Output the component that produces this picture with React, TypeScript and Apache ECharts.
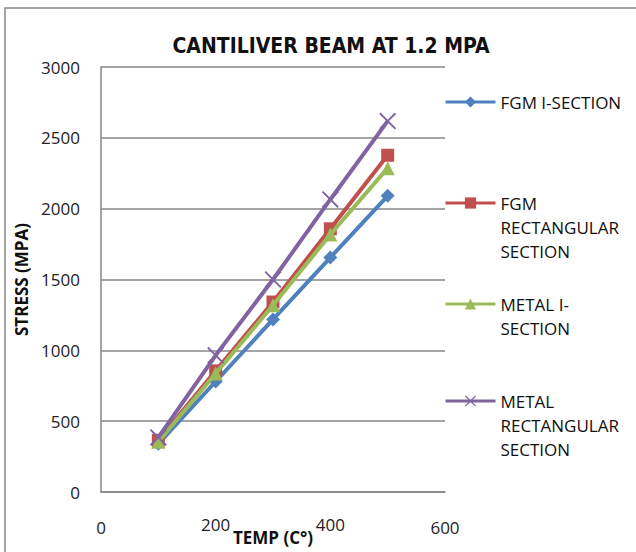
import React, { useEffect, useRef } from "react";
import * as echarts from "echarts";

const temps = [100, 200, 300, 400, 500];
const fgmI = [340, 780, 1218, 1655, 2091];
const fgmRect = [365, 855, 1341, 1858, 2377];
const metalI = [355, 836, 1318, 1818, 2286];
const metalRect = [385, 965, 1500, 2065, 2618];

const seriesNames = [
  "FGM I-SECTION",
  "FGM RECTANGULAR SECTION",
  "METAL I-SECTION",
  "METAL RECTANGULAR SECTION",
];
const legendLabels = [
  ["FGM I-SECTION"],
  ["FGM", "RECTANGULAR", "SECTION"],
  ["METAL I-", "SECTION"],
  ["METAL", "RECTANGULAR", "SECTION"],
];
const colors = ["#4F81BD", "#C0504D", "#9BBB59", "#8064A2"];
const symbols = [
  "diamond",
  "rect",
  "triangle",
  "path://M0,0.8 L0.8,0 L5,4.2 L9.2,0 L10,0.8 L5.8,5 L10,9.2 L9.2,10 L5,5.8 L0.8,10 L0,9.2 L4.2,5 Z",
];
const symbolSizes = [14, 13, 14, 17];
const legendTops = [90, 143, 268, 341];

const FONT = "'Open Sans', 'Noto Sans', sans-serif";
const GRAY = "#868686";

export default function App() {
  const ref = useRef<HTMLDivElement>(null);
  useEffect(() => {
    document.body.style.margin = "0";
    const chart = echarts.init(ref.current!, undefined, { renderer: "svg" });
    const allData = [fgmI, fgmRect, metalI, metalRect];
    const series = allData.map((vals, i) => ({
      name: seriesNames[i],
      type: "line",
      data: temps.map((t, j) => [t, vals[j]]),
      symbol: symbols[i],
      symbolSize: symbolSizes[i],
      itemStyle: { color: colors[i] },
      lineStyle: { color: colors[i], width: 4 },
      z: 2 + i,
    }));
    const legends = seriesNames.map((n, i) => {
      const lines = legendLabels[i];
      // blank lines above so the first text line sits level with the icon
      const label = Array(lines.length - 1).fill("").concat(lines).join("\n");
      return {
        data: [n],
        left: 444,
        top: legendTops[i],
        orient: "vertical",
        padding: 0,
        itemWidth: 50,
        itemHeight: 14,
        formatter: () => label,
        textStyle: {
          fontFamily: FONT,
          fontSize: 17,
          lineHeight: 24,
          color: "#111",
        },
        lineStyle: { width: 3 },
      };
    });
    const tickText = { fontFamily: FONT, fontSize: 17, color: "#222" };
    chart.setOption({
      animation: false,
      backgroundColor: "#ffffff",
      title: {
        text: "CANTILIVER BEAM AT 1.2 MPA",
        left: 326,
        top: 30,
        textAlign: "center",
        textStyle: {
          fontFamily: "'Liberation Sans Narrow', 'DejaVu Sans Condensed', sans-serif",
          fontWeight: "bold",
          fontSize: 21,
          color: "#111",
        },
      },
      graphic: [
        {
          type: "rect",
          shape: { x: 5, y: 8, width: 700, height: 600 },
          style: { fill: "none", stroke: GRAY, lineWidth: 1.5 },
          silent: true,
        },
      ],
      legend: legends,
      grid: {
        left: 101,
        right: 191,
        top: 67,
        bottom: 60,
        containLabel: false,
        outerBoundsMode: "none",
      },
      xAxis: {
        type: "value",
        min: 0,
        max: 600,
        interval: 200,
        name: "TEMP (C°)",
        nameLocation: "middle",
        nameGap: 37,
        nameMoveOverlap: false,
        nameTextStyle: { fontFamily: FONT, fontWeight: "bold", fontSize: 17, color: "#111" },
        axisLine: { show: true, lineStyle: { color: GRAY, width: 1.5 } },
        axisTick: { show: false },
        splitLine: { show: false },
        axisLabel: {
          ...tickText,
          margin: 24,
          formatter: (v: number) => (v === 0 || v === 600 ? `{low|${v}}` : `${v}`),
          rich: { low: { ...tickText, padding: [3, 0, 0, 0] } },
        },
      },
      yAxis: {
        type: "value",
        min: 0,
        max: 3000,
        interval: 500,
        name: "STRESS (MPA)",
        nameLocation: "middle",
        nameGap: 66,
        nameTextStyle: { fontFamily: FONT, fontWeight: "bold", fontSize: 17, color: "#111" },
        axisLine: { show: true, lineStyle: { color: GRAY, width: 1.5 } },
        axisTick: { show: false },
        splitLine: { show: true, lineStyle: { color: GRAY, width: 1.5 } },
        axisLabel: {
          ...tickText,
          margin: 21,
          formatter: (v: number) => String(v),
        },
      },
      series,
    });
    return () => chart.dispose();
  }, []);
  return <div ref={ref} style={{ width: 636, height: 552 }} />;
}
